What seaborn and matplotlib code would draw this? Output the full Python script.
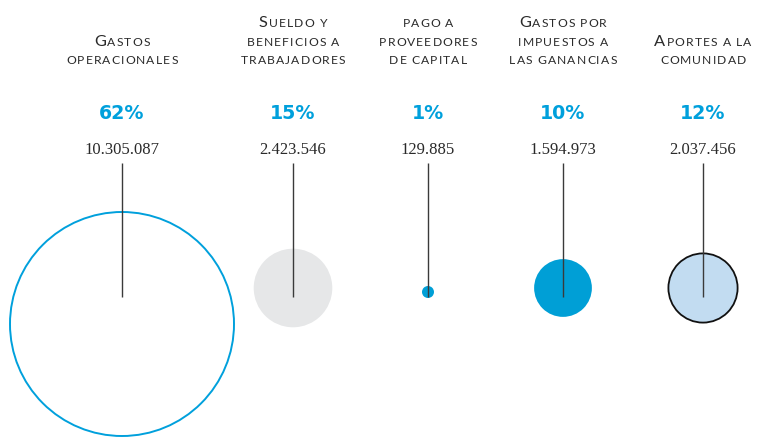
import pandas as pd
import seaborn as sns
import matplotlib.pyplot as plt
from matplotlib import font_manager
from matplotlib.colors import PowerNorm
from matplotlib.ft2font import FT2Font

# data
categories = ['Gastos\noperacionales',
              'Sueldo y\nbeneficios a\ntrabajadores',
              'pago a\nproveedores\nde capital',
              'Gastos por\nimpuestos a\nlas ganancias',
              'Aportes a la\ncomunidad']
amounts = [10305087, 2423546, 129885, 1594973, 2037456]
shares = [62, 15, 1, 10, 12]

# layout (pixel coordinates, y downwards)
col_x = [122, 293, 428, 563, 703]
circle_y = [324, 288, 292, 288, 288]

# styles
fills = ['white', '#e6e7e8', '#009fd6', '#009fd6', '#c2dcf1']
edges = ['#00a0dc', '#e6e7e8', '#009fd6', '#009fd6', '#111111']
edge_w = [1.4, 0, 0, 0, 1.3]
blue = '#00a0dc'
ink = '#2a2a2a'

W, H, DPI = 758, 440, 100

sns.set_style('white')
fig = plt.figure(figsize=(W / DPI, H / DPI), dpi=DPI)
ax = fig.add_axes([0, 0, 1, 1])

df = pd.DataFrame({'category': categories, 'amount': amounts,
                   'x': col_x, 'y': circle_y})

# circle areas follow the amounts (power scaled like the original)
sns.scatterplot(data=df, x='x', y='y', hue='category', size='amount',
                palette=dict(zip(categories, fills)),
                sizes=((0.72 * 12) ** 2, (0.72 * 224) ** 2),
                size_norm=PowerNorm(1.42, vmin=min(amounts), vmax=max(amounts)),
                edgecolor=edges, linewidth=edge_w, legend=False,
                ax=ax, zorder=2)

ax.vlines(col_x, 163, 297, color='#3a3a3a', lw=1.0, zorder=3)

ax.set_xlim(0, W)
ax.set_ylim(H, 0)
ax.axis('off')

# small caps labels, drawn char by char with tracking
label_font = 'Lato'
font_path = font_manager.findfont(font_manager.FontProperties(family=label_font))
ft = FT2Font(font_path)


def advance(ch, size):
    ft.set_size(size, DPI)
    return ft.load_char(ord(ch)).linearHoriAdvance / 65536


def small_caps(cx, base, text, big=11.8, small=8.7, track=1.1):
    items = []
    for ch in text:
        size = big if ch.isupper() else small
        items.append((ch.upper(), size, advance(ch.upper(), size)))
    total = sum(a for _, _, a in items) + track * (len(items) - 1)
    pen = cx - total / 2
    for ch, size, adv in items:
        if ch != ' ':
            ax.text(pen + adv / 2, base, ch, fontsize=size, family=label_font,
                    color=ink, ha='center', va='baseline')
        pen += adv + track


for cx, cat, amt, pct in zip(col_x, categories, amounts, shares):
    lines = cat.split('\n')
    for i, line in enumerate(lines):
        base = 64 - 18.5 * (len(lines) - 1 - i)
        small_caps(cx, base, line)
    ax.text(cx, 119, f'{pct}%', fontsize=13.7, fontweight='bold',
            family='DejaVu Sans', color=blue, ha='center', va='baseline')
    ax.text(cx, 154, f'{amt:,}'.replace(',', '.'), fontsize=12,
            family='Liberation Serif', color=ink, ha='center', va='baseline')

fig.savefig('out.png', dpi=DPI)
